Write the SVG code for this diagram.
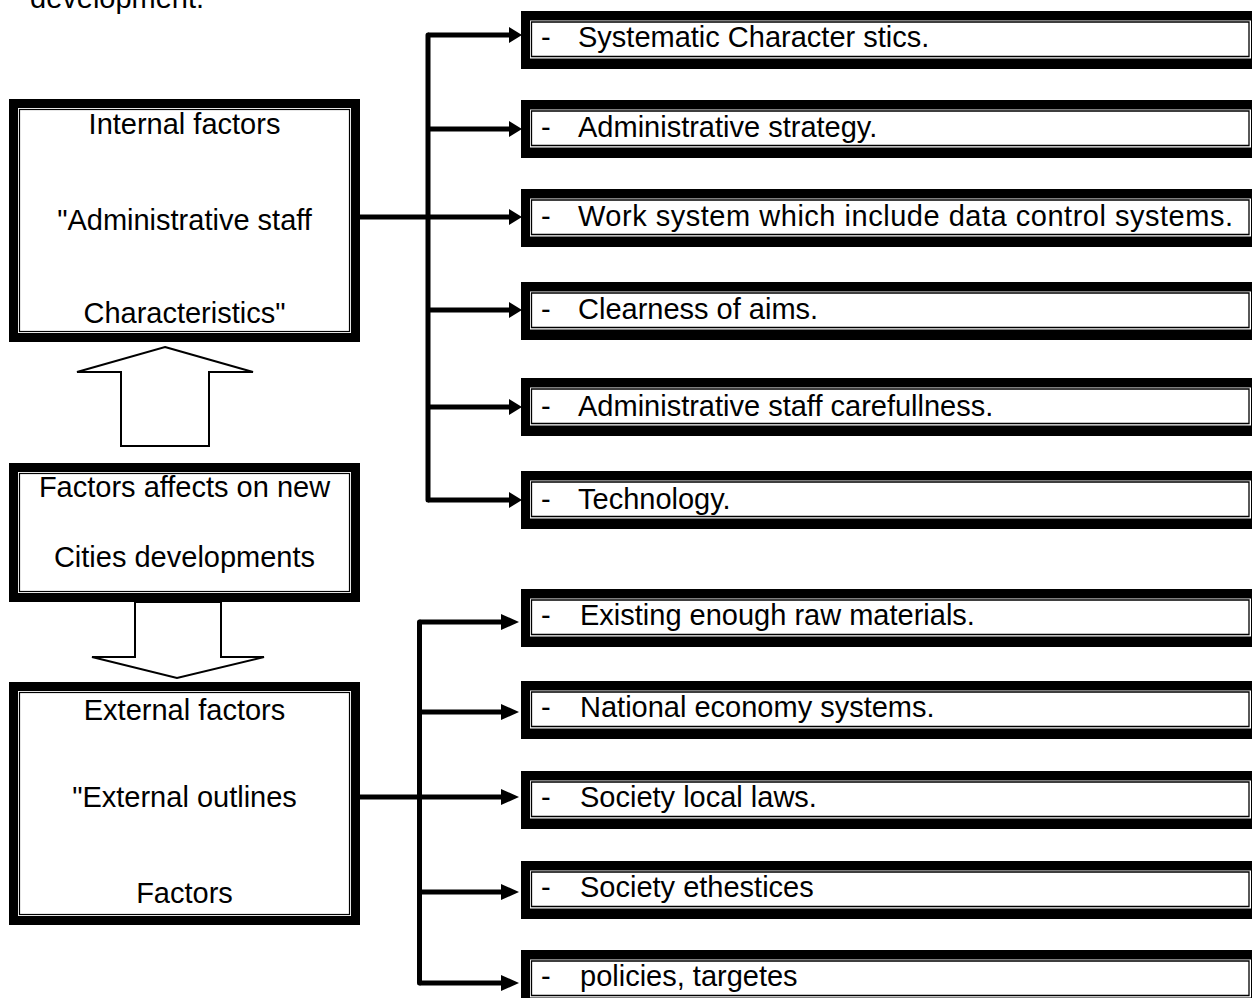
<svg xmlns="http://www.w3.org/2000/svg" width="1252" height="998" viewBox="0 0 1252 998">
<style>
text{font-family:"Liberation Sans",Arial,sans-serif;font-size:29px;fill:#000}
.c{text-anchor:middle}
.outer{fill:#000}
.gap{fill:#fff}
.thin{fill:none;stroke:#000;stroke-width:1.2}
.rt{fill:none;stroke:#000;stroke-width:1.3}
.ln{stroke:#000;stroke-width:5;fill:none;stroke-linecap:butt}
.vl{stroke:#000;stroke-width:5;fill:none;stroke-linecap:round}
.blk{fill:#fff;stroke:#000;stroke-width:2}
</style>
<rect width="1252" height="998" fill="#fff"/>
<text x="30" y="8">development.</text>

<g id="internal">
<rect class="outer" x="9" y="99" width="351" height="243"/>
<rect class="gap" x="18" y="108" width="333" height="225"/>
<rect class="thin" x="19.5" y="109.5" width="330" height="222"/>
<text class="c" x="184.5" y="134">Internal factors</text>
<text class="c" x="184.5" y="230">"Administrative staff</text>
<text class="c" x="184.5" y="323">Characteristics"</text>
</g>

<g id="arrow-up">
<polygon class="blk" points="165,347 253,372 209,372 209,446 121,446 121,372 77,372"/>
</g>

<g id="center">
<rect class="outer" x="9" y="463" width="351" height="139"/>
<rect class="gap" x="18" y="472" width="333" height="121"/>
<rect class="thin" x="19.5" y="473.5" width="330" height="118"/>
<text class="c" x="184.5" y="497">Factors affects on new</text>
<text class="c" x="184.5" y="567">Cities developments</text>
</g>

<g id="arrow-down">
<polygon class="blk" points="135,602 221,602 221,657 264,657 177,678 92,657 135,657"/>
</g>

<g id="external">
<rect class="outer" x="9" y="682" width="351" height="243"/>
<rect class="gap" x="18" y="691" width="333" height="225"/>
<rect class="thin" x="19.5" y="692.5" width="330" height="222"/>
<text class="c" x="184.5" y="720">External factors</text>
<text class="c" x="184.5" y="807">"External outlines</text>
<text class="c" x="184.5" y="903">Factors</text>
</g>

<g id="connectors">
<path class="vl" d="M428,35 V500"/>
<path class="ln" d="M360,217 H512"/>
<path class="ln" d="M428,35 H512 M428,129 H512 M428,310 H512 M428,407 H512 M428,500 H512"/>
<polygon points="509,27 522,35 509,43"/>
<polygon points="509,121 522,129 509,137"/>
<polygon points="509,209 522,217 509,225"/>
<polygon points="509,302 522,310 509,318"/>
<polygon points="509,399 522,407 509,415"/>
<polygon points="509,492 522,500 509,508"/>
<path class="vl" d="M419.5,622 V983"/>
<path class="ln" d="M360,797 H505"/>
<path class="ln" d="M419.5,622 H505 M419.5,712 H505 M419.5,892 H505 M419.5,983 H505"/>
<polygon points="501,614 519,622 501,630"/>
<polygon points="501,704 519,712 501,720"/>
<polygon points="501,789 519,797 501,805"/>
<polygon points="501,884 519,892 501,900"/>
<polygon points="501,975 519,983 501,991"/>
</g>

<g id="r1">
<rect class="outer" x="521" y="11" width="740" height="58"/>
<rect class="gap" x="530" y="20.5" width="721" height="38"/>
<path class="rt" d="M1249,22 H531.5 V56.5 H1249 Z"/>
<text x="541" y="47">-</text><text x="578" y="47">Systematic Character stics.</text>
</g>
<g id="r2">
<rect class="outer" x="521" y="100" width="740" height="58"/>
<rect class="gap" x="530" y="109.5" width="721" height="38"/>
<path class="rt" d="M1249,111 H531.5 V145.5 H1249 Z"/>
<text x="541" y="137">-</text><text x="578" y="137">Administrative strategy.</text>
</g>
<g id="r3">
<rect class="outer" x="521" y="189" width="740" height="58"/>
<rect class="gap" x="530" y="198.5" width="721" height="38"/>
<path class="rt" d="M1249,200 H531.5 V234.5 H1249 Z"/>
<text x="541" y="226">-</text><text x="578" y="226" textLength="655" lengthAdjust="spacing">Work system which include data control systems.</text>
</g>
<g id="r4">
<rect class="outer" x="521" y="282" width="740" height="58"/>
<rect class="gap" x="530" y="291.5" width="721" height="38"/>
<path class="rt" d="M1249,293 H531.5 V327.5 H1249 Z"/>
<text x="541" y="319">-</text><text x="578" y="319">Clearness of aims.</text>
</g>
<g id="r5">
<rect class="outer" x="521" y="378" width="740" height="58"/>
<rect class="gap" x="530" y="387.5" width="721" height="38"/>
<path class="rt" d="M1249,389 H531.5 V423.5 H1249 Z"/>
<text x="541" y="416">-</text><text x="578" y="416">Administrative staff carefullness.</text>
</g>
<g id="r6">
<rect class="outer" x="521" y="471" width="740" height="58"/>
<rect class="gap" x="530" y="480.5" width="721" height="38"/>
<path class="rt" d="M1249,482 H531.5 V516.5 H1249 Z"/>
<text x="541" y="509">-</text><text x="578" y="509">Technology.</text>
</g>

<g id="e1">
<rect class="outer" x="521" y="589" width="740" height="58"/>
<rect class="gap" x="530" y="598.5" width="721" height="38"/>
<path class="rt" d="M1249,600 H531.5 V634.5 H1249 Z"/>
<text x="541" y="625">-</text><text x="580" y="625">Existing enough raw materials.</text>
</g>
<g id="e2">
<rect class="outer" x="521" y="681" width="740" height="58"/>
<rect class="gap" x="530" y="690.5" width="721" height="38"/>
<path class="rt" d="M1249,692 H531.5 V726.5 H1249 Z"/>
<text x="541" y="717">-</text><text x="580" y="717">National economy systems.</text>
</g>
<g id="e3">
<rect class="outer" x="521" y="771" width="740" height="58"/>
<rect class="gap" x="530" y="780.5" width="721" height="38"/>
<path class="rt" d="M1249,782 H531.5 V816.5 H1249 Z"/>
<text x="541" y="807">-</text><text x="580" y="807">Society local laws.</text>
</g>
<g id="e4">
<rect class="outer" x="521" y="861" width="740" height="58"/>
<rect class="gap" x="530" y="870.5" width="721" height="38"/>
<path class="rt" d="M1249,872 H531.5 V906.5 H1249 Z"/>
<text x="541" y="897">-</text><text x="580" y="897">Society ethestices</text>
</g>
<g id="e5">
<rect class="outer" x="521" y="950" width="740" height="58"/>
<rect class="gap" x="530" y="959.5" width="721" height="38"/>
<path class="rt" d="M1249,961 H531.5 V995.5 H1249 Z"/>
<text x="541" y="986">-</text><text x="580" y="986">policies, targetes</text>
</g>
</svg>
